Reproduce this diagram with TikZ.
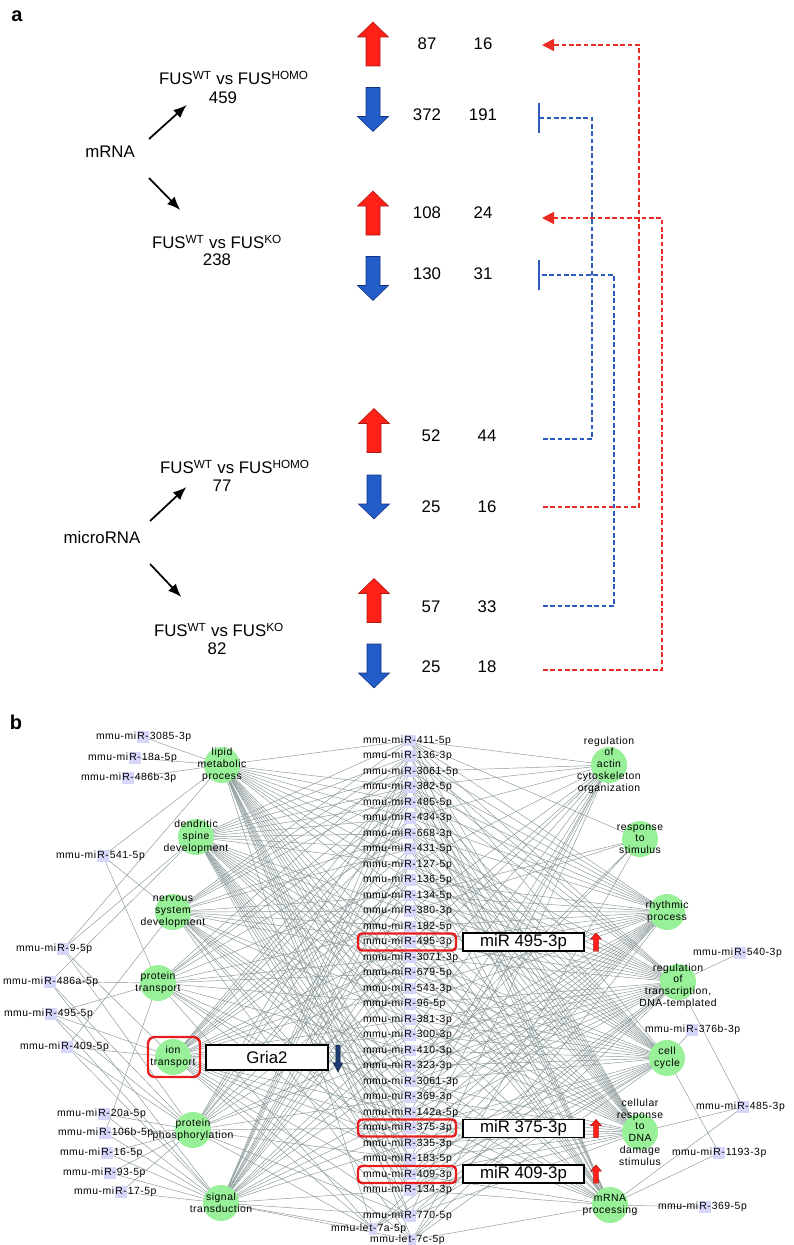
\documentclass[tikz,border=0pt]{standalone}
\usepackage{fontspec}
\setmainfont{Liberation Sans}
\newfontfamily\netfont[LetterSpace=5]{Liberation Sans}
\usepackage{tikz}
\usetikzlibrary{arrows.meta, positioning, calc, backgrounds}
\definecolor{upred}{RGB}{255,32,24}
\definecolor{upredline}{RGB}{170,25,20}
\definecolor{downblue}{RGB}{34,92,200}
\definecolor{downblueline}{RGB}{20,50,130}
\definecolor{dashred}{RGB}{235,42,36}
\definecolor{dashblue}{RGB}{42,92,190}
\definecolor{gogreen}{RGB}{152,240,152}
\definecolor{mirhl}{RGB}{214,214,250}
\definecolor{edgegray}{RGB}{138,152,152}
\definecolor{hlred}{RGB}{232,30,30}
\definecolor{grianavy}{RGB}{30,58,112}
\newcommand{\partfont}{\fontsize{12.6}{14.5}\selectfont}
\newcommand{\netsize}{\netfont\fontsize{7.8}{8.8}\selectfont}
\tikzset{
  panel/.style={font=\fontsize{15}{18}\selectfont\bfseries, inner sep=0pt},
  txt/.style={font=\partfont, inner sep=0pt},
  blockarrow/.pic={\path[pic actions] (0,-22) -- (15.5,-7) -- (7,-7) -- (7,22)
    -- (-7,22) -- (-7,-7) -- (-15.5,-7) -- cycle;},
  uparrow/.style={fill=upred, draw=upredline, line width=0.4pt},
  downarrow/.style={fill=downblue, draw=downblueline, line width=0.4pt, yscale=-1},
  pointer/.style={-{Latex[length=10pt,width=8pt]}, line width=1.3pt},
  reddash/.style={dashed, dash pattern=on 3.5pt off 2pt, line width=1.3pt, color=dashred,
    -{Triangle[length=9pt,width=9pt]}},
  bluedash/.style={dashed, dash pattern=on 3.5pt off 2pt, line width=1.3pt, color=dashblue,
    -{Bar[width=22pt,line width=1.6pt]}},
  gonode/.style={circle, fill=gogreen, minimum size=27pt, inner sep=0pt},
  golabel/.style={font=\netsize, align=center, inner sep=0pt},
  mirnode/.style={fill=mirhl, font=\netsize, inner sep=0.4pt, text height=6pt, text depth=1.6pt},
  mirside/.style={font=\netsize, inner sep=0pt, text height=6pt, text depth=1.6pt},
  netedge/.style={draw=edgegray, line width=0.35pt},
  hlbox/.style={draw=hlred, line width=1.8pt, rounded corners=3pt},
  mirbox/.style={draw, line width=0.8pt, fill=white, minimum width=90.75pt,
    minimum height=13.5pt, inner sep=0pt, font=\partfont}
}

\begin{document}
\begin{tikzpicture}[x=0.75pt, y=-0.75pt]
  \useasboundingbox (0,0) rectangle (793,1245);

  % ---------- panel a ----------
  \node[panel] (pa) at (17,16) {a};

  \node[txt] (mrna) at (110,152) {mRNA};
  \node[txt] (fusA) at (234,78) {FUS\textsuperscript{WT} vs FUS\textsuperscript{HOMO}};
  \node[txt] (n459) at (223,98) {459};
  \node[txt] (fusB) at (217,242) {FUS\textsuperscript{WT} vs FUS\textsuperscript{KO}};
  \node[txt] (n238) at (217,260) {238};
  \draw[pointer] ([shift={(14,-13)}]mrna.east) -- ([shift={(-22,7)}]n459.west);
  \draw[pointer] ([shift={(14,26)}]mrna.east) -- ([shift={(28.5,-32)}]fusB.west);

  \node[txt] (mirna) at (102,537) {microRNA};
  \node[txt] (fusC) at (235,467) {FUS\textsuperscript{WT} vs FUS\textsuperscript{HOMO}};
  \node[txt] (n77) at (222,486) {77};
  \node[txt] (fusD) at (219,630) {FUS\textsuperscript{WT} vs FUS\textsuperscript{KO}};
  \node[txt] (n82) at (217,649) {82};
  \draw[pointer] ([shift={(9.5,-16)}]mirna.east) -- ([shift={(-26,1)}]n77.west);
  \draw[pointer] ([shift={(9.5,27)}]mirna.east) -- ([shift={(27.5,-33)}]fusD.west);

  % block arrows
  \pic[uparrow] at (373,44) {blockarrow};
  \pic[downarrow] at (373,109.5) {blockarrow};
  \pic[uparrow] at (373,213) {blockarrow};
  \pic[downarrow] at (373,278.5) {blockarrow};
  \pic[uparrow] at (374,430.5) {blockarrow};
  \pic[downarrow] at (374,497) {blockarrow};
  \pic[uparrow] at (374,600.5) {blockarrow};
  \pic[downarrow] at (374,666) {blockarrow};

  % counts
  \node[txt] (c1a) at (427,44) {87};   \node[txt] (c1b) at (483,44) {16};
  \node[txt] (c2a) at (427,115) {372}; \node[txt] (c2b) at (483,115) {191};
  \node[txt] (c3a) at (427,213) {108}; \node[txt] (c3b) at (483,213) {24};
  \node[txt] (c4a) at (427,274) {130}; \node[txt] (c4b) at (483,274) {31};
  \node[txt] (c5a) at (431,436) {52};  \node[txt] (c5b) at (487,436) {44};
  \node[txt] (c6a) at (431,507) {25};  \node[txt] (c6b) at (487,507) {16};
  \node[txt] (c7a) at (431,607) {57};  \node[txt] (c7b) at (487,607) {33};
  \node[txt] (c8a) at (431,667) {25};  \node[txt] (c8b) at (487,667) {18};

  % dashed links between microRNA and mRNA rows
  \coordinate (hA) at (542,45);
  \coordinate (hB) at (538,118);
  \coordinate (hC) at (542,218);
  \coordinate (hD) at (538,275);
  \coordinate (sB) at (543,439);
  \coordinate (sA) at (543,507);
  \coordinate (sD) at (543,606);
  \coordinate (sC) at (543,670);
  \draw[reddash] (sA) -- ++(96,0) |- (hA);
  \draw[bluedash] (sB) -- ++(49,0) |- (hB);
  \draw[bluedash] (sD) -- ++(71,0) |- (hD);
  \draw[reddash] (sC) -- ++(119,0) |- (hC);

  % ---------- panel b ----------
  \node[panel] (pb) at (16,722) {b};

  % GO terms
  \node[gonode, label={[golabel]center:{lipid\\metabolic\\process}}] (g1) at (222,765) {};
  \node[gonode, label={[golabel]center:{dendritic\\spine\\development}}] (g2) at (196,837) {};
  \node[gonode, label={[golabel]center:{nervous\\system\\development}}] (g3) at (173,912) {};
  \node[gonode, label={[golabel]center:{protein\\transport}}] (g4) at (158,983) {};
  \node[gonode, label={[golabel]center:{ion\\transport}}] (g5) at (173,1057) {};
  \node[gonode, label={[golabel]center:{protein\\phosphorylation}}] (g6) at (193,1130) {};
  \node[gonode, label={[golabel]center:{signal\\transduction}}] (g7) at (221,1203) {};
  \node[gonode, label={[golabel]center:{regulation\\of\\actin\\cytoskeleton\\organization}}] (g8) at (609,765) {};
  \node[gonode, label={[golabel]center:{response\\to\\stimulus}}] (g9) at (640,839) {};
  \node[gonode, label={[golabel]center:{rhythmic\\process}}] (g10) at (667,912) {};
  \node[gonode, label={[golabel, yshift=-3pt]center:{regulation\\of\\transcription,\\DNA-templated}}] (g11) at (678,982) {};
  \node[gonode, label={[golabel]center:{cell\\cycle}}] (g12) at (667,1058) {};
  \node[gonode, label={[golabel]center:{cellular\\response\\to\\DNA\\damage\\stimulus}}] (g13) at (640,1132) {};
  \node[gonode, label={[golabel]center:{mRNA\\processing}}] (g14) at (610,1205) {};

  % central microRNAs
  \foreach \suf [count=\i] in {411-5p,136-3p,3061-5p,382-5p,485-5p,434-3p,668-3p,431-5p,
      127-5p,136-5p,134-5p,380-3p,182-5p,495-3p,3071-3p,679-5p,543-3p,96-5p,381-3p,
      300-3p,410-3p,323-3p,3061-3p,369-3p,142a-5p,375-3p,335-3p,183-5p,409-3p,134-3p} {
    \node[mirnode, label={[mirside]left:mmu-mi}, label={[mirside]right:\suf}]
      (m\i) at (410,{740.5+15.5*(\i-1)}) {R-};
  }
  \node[mirnode, label={[mirside]left:mmu-mi}, label={[mirside]right:770-5p}] (m31) at (410,1216) {R-};
  \node[mirnode, label={[mirside]left:mmu-le}, label={[mirside]right:7a-5p}] (m32) at (373,1229) {t-};
  \node[mirnode, label={[mirside]left:mmu-le}, label={[mirside]right:7c-5p}] (m33) at (412,1240) {t-};

  % outer microRNAs
  \foreach \x/\y/\suf/\nm in {143/737/3085-3p/la, 135/758/18a-5p/lb, 128/778/486b-3p/lc,
      103/856/541-5p/ld, 63/949/9-5p/le, 50/982/486a-5p/lf, 51/1014/495-5p/lg,
      67/1047/409-5p/lh, 104/1114/20a-5p/li, 105/1133/106b-5p/lj, 107/1153/16-5p/lk,
      110/1173/93-5p/ll, 121/1192/17-5p/lm, 740/953/540-3p/ra, 692/1030/376b-3p/rb,
      743/1107/485-3p/rc, 719/1153/1193-3p/rd, 705/1207/369-5p/re} {
    \node[mirnode, label={[mirside]left:mmu-mi}, label={[mirside]right:\suf}] (\nm) at (\x,\y) {R-};
  }

  % interaction edges
  \begin{scope}[on background layer]
    \foreach \i in {1,...,33} {
      \foreach \j in {1,...,14} {
        \pgfmathtruncatemacro\k{mod(3*\i*\i+5*\j+7*\i*\j,11)}
        \pgfmathtruncatemacro\lim{\j==9 ? 3 : (\j==5 ? 5 : 7)}
        \ifnum\k<\lim \draw[netedge] (m\i.center) -- (g\j.center);\fi
      }
    }
    \foreach \a/\b in {la/g1, lb/g1, lc/g1, ld/g1, ld/g3, ld/g4, le/g1, le/g2, le/g5, le/g6,
        lf/g2, lf/g4, lf/g6, lf/g7, lg/g4, lg/g5, lg/g6, lg/g7, lh/g3, lh/g5, lh/g6, lh/g7,
        li/g6, li/g7, lj/g4, lj/g6, lj/g7, lk/g6, lk/g7, ll/g6, ll/g7, lm/g6, lm/g7,
        ra/g11, rb/g12, rc/g11, rc/g13, rc/g14, rd/g12, rd/g14, re/g14} {
      \draw[netedge] (\a.center) -- (\b.center);
    }
  \end{scope}

  % highlighted microRNAs and targets
  \draw[hlbox] ([shift={(-52,-8.5)}]m14.center) rectangle ([shift={(46,8.5)}]m14.center);
  \draw[hlbox] ([shift={(-52,-8.5)}]m26.center) rectangle ([shift={(46,8.5)}]m26.center);
  \draw[hlbox] ([shift={(-52,-8.5)}]m29.center) rectangle ([shift={(46,8.5)}]m29.center);
  \draw[hlbox, rounded corners=5pt] ([shift={(-25,-20)}]g5.center) rectangle ([shift={(27,20)}]g5.center);

  \node[mirbox] (b495) at (523.5,942) {miR 495-3p};
  \node[mirbox] (b375) at (523.5,1128.5) {miR 375-3p};
  \node[mirbox] (b409) at (523.5,1174) {miR 409-3p};
  \node[mirbox, minimum width=91.5pt, minimum height=18.75pt] (gria) at (267,1057.5) {Gria2};
  \pic[uparrow, xscale=0.35, yscale=0.41] at (596,942) {blockarrow};
  \pic[uparrow, xscale=0.35, yscale=0.41] at (596,1128.5) {blockarrow};
  \pic[uparrow, xscale=0.35, yscale=0.41] at (596,1174) {blockarrow};
  \pic[fill=grianavy, draw=grianavy!70!black, line width=0.4pt, yscale=-0.61, xscale=0.3] at (338,1058.5) {blockarrow};
\end{tikzpicture}
\end{document}
